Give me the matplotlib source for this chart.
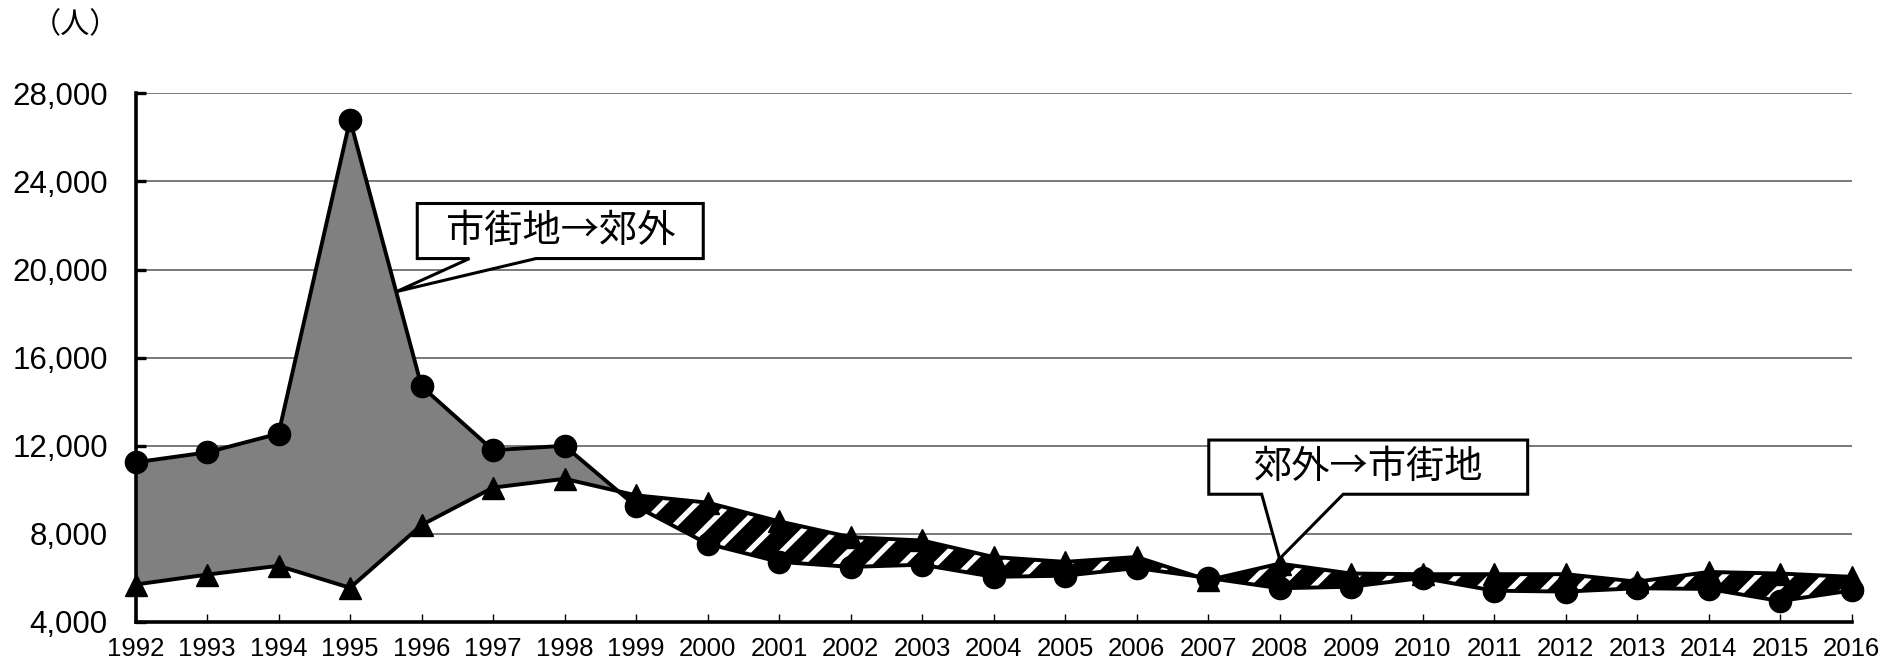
import numpy as np
import matplotlib
matplotlib.use("Agg")
import matplotlib.pyplot as plt
from matplotlib.patches import Polygon
from matplotlib.ticker import FuncFormatter

# ------------------------------------------------------------------
# データ（人）
# ------------------------------------------------------------------
years = np.arange(1992, 2017)

# 市街地→郊外（●）
city_to_suburb = [11250, 11700, 12550, 26800, 14700, 11800, 12000, 9250,
                  7550, 6730, 6500, 6600, 6050, 6100, 6450, 6000,
                  5530, 5600, 6000, 5420, 5380, 5530, 5500, 4950, 5430]

# 郊外→市街地（▲）
suburb_to_city = [5700, 6150, 6550, 5550, 8400, 10100, 10500, 9750,
                  9420, 8570, 7850, 7700, 6950, 6730, 6950, 5900,
                  6650, 6200, 6170, 6170, 6170, 5830, 6270, 6200, 6050]

y_ticks = [4000, 8000, 12000, 16000, 20000, 24000, 28000]
label_out = "市街地→郊外"
label_in = "郊外→市街地"

cjk = ["Noto Sans CJK JP", "DejaVu Sans"]
num_font = "Liberation Sans"
plt.rcParams['hatch.linewidth'] = 3.8

# ------------------------------------------------------------------
# 図
# ------------------------------------------------------------------
fig = plt.figure(figsize=(19.01, 6.66), dpi=100)
ax = fig.add_axes([0.0713, 0.0661, 0.9027, 0.7937])

a = np.array(city_to_suburb, dtype=float)
b = np.array(suburb_to_city, dtype=float)

# 転出超過（灰色）と転入超過（斜線）
ax.fill_between(years, a, b, where=a >= b, interpolate=True,
                facecolor="#808080", edgecolor="none", zorder=2)
ax.fill_between(years, a, b, where=b > a, interpolate=True,
                facecolor="black", edgecolor="white", hatch="/",
                linewidth=0, zorder=2)

ax.plot(years, a, color="black", lw=2.8, marker="o", ms=16,
        zorder=4, clip_on=False)
ax.plot(years, b, color="black", lw=2.8, marker="^", ms=15.5,
        zorder=4, clip_on=False)

ax.set_xlim(1992, 2016)
ax.set_ylim(4000, 28000)
ax.set_xticks(years)
ax.set_yticks(y_ticks)
ax.yaxis.set_major_formatter(FuncFormatter(lambda v, p: f"{v:,.0f}"))
ax.grid(axis="y", color="#555555", lw=1.1, zorder=0)
ax.set_axisbelow(True)

for s in ["top", "right"]:
    ax.spines[s].set_visible(False)
for s in ["left", "bottom"]:
    ax.spines[s].set_linewidth(2.6)
    ax.spines[s].set_zorder(5)

ax.tick_params(axis="y", direction="in", length=7, width=2.4, pad=20,
               labelsize=22.5)
ax.tick_params(axis="x", direction="in", length=6, width=1, pad=11,
               labelsize=18.5)
for lab in ax.get_xticklabels() + ax.get_yticklabels():
    lab.set_family(num_font)

fig.text(0.0395, 0.962, "（人）", family=cjk, fontsize=21,
         ha="center", va="center")


# ------------------------------------------------------------------
# 吹き出し
# ------------------------------------------------------------------
def callout(x0, x1, y0, y1, b0, b1, tip, text):
    pts = [(x0, y0), (b0, y0), tip, (b1, y0), (x1, y0), (x1, y1), (x0, y1)]
    ax.add_patch(Polygon(pts, closed=True, facecolor="white",
                         edgecolor="black", lw=2.2, zorder=6, clip_on=False))
    ax.text((x0 + x1) / 2, (y0 + y1) / 2, text, family=cjk, fontsize=27.5,
            ha="center", va="center", zorder=7)


callout(1995.94, 1999.94, 20500, 23000, 1996.67, 1997.6,
        (1995.65, 19000), label_out)
callout(2007.01, 2011.47, 9800, 12260, 2007.75, 2008.89,
        (2008.0, 6870), label_in)

fig.savefig("out.png", dpi=100)
